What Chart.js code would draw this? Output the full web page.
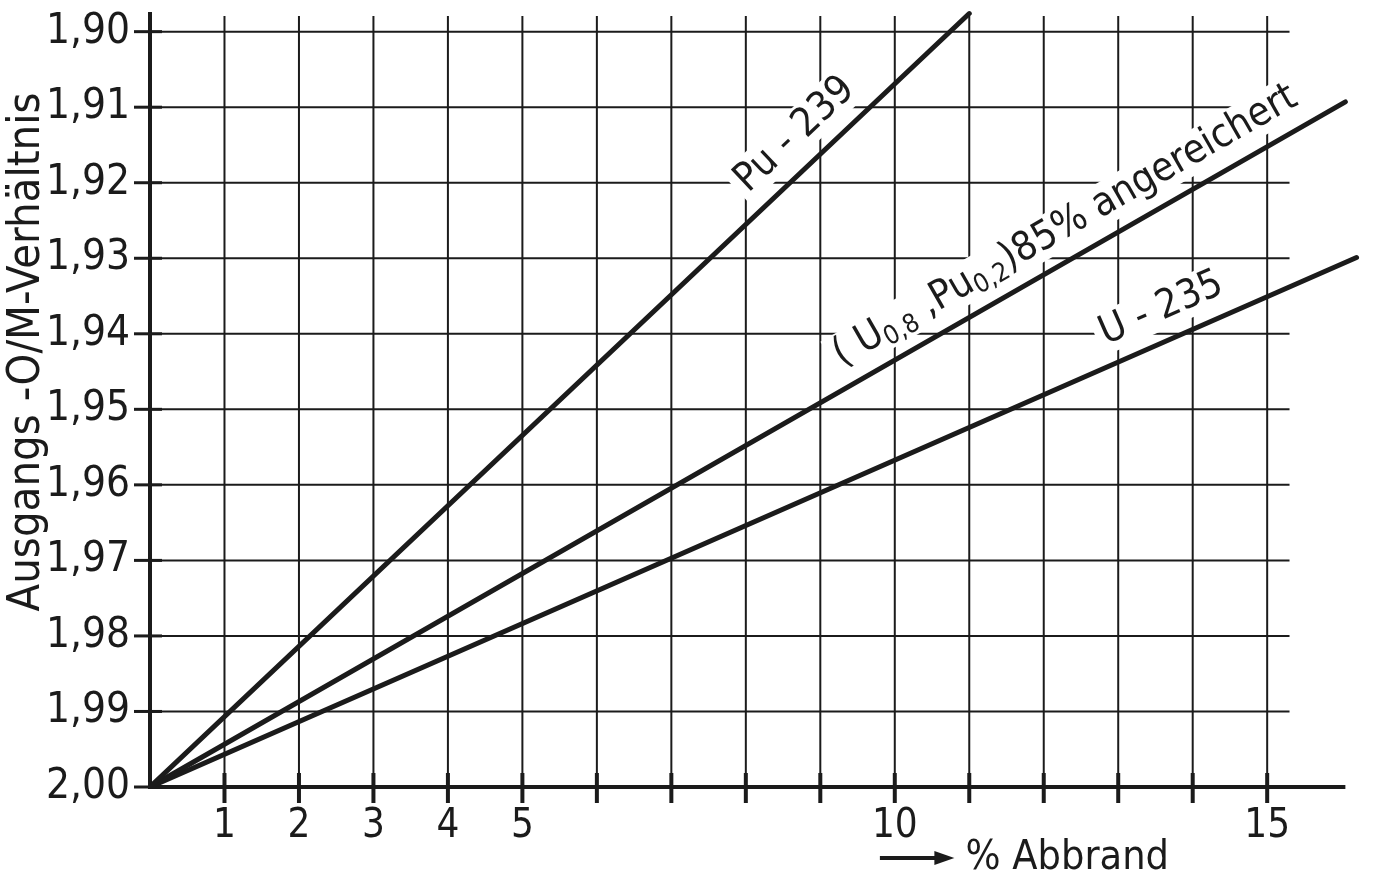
<!DOCTYPE html>
<html>
<head>
<meta charset="utf-8">
<script src="https://cdn.jsdelivr.net/npm/chart.js@4.4.0/dist/chart.umd.min.js"></script>
<style>
  html, body { margin: 0; padding: 0; background: #fff; }
</style>
</head>
<body>
<canvas id="graph" width="1373" height="882"></canvas>
<script>
// values (x = % Abbrand, y = Ausgangs-O/M-Verhaeltnis)
const puBurnup  = [0, 11.0];
const puOM      = [2.000, 1.8976];
const mixBurnup = [0, 16.05];
const mixOM     = [2.000, 1.9093];
const uBurnup   = [0, 16.2];
const uOM       = [2.000, 1.9299];

const xGridValues = [0, 1, 2, 3, 4, 5, 6, 7, 8, 9, 10, 11, 12, 13, 14, 15];
const xTickLabels = [1, 2, 3, 4, 5, 10, 15];
const yTickValues = [1.90, 1.91, 1.92, 1.93, 1.94, 1.95, 1.96, 1.97, 1.98, 1.99, 2.00];

const yTitle = 'Ausgangs -O/M-Verhältnis';
const xTitle = '% Abbrand';

const INK = '#1b1b1b';
const FONT = '"DejaVu Sans Condensed", "Liberation Sans Narrow", sans-serif';

function toPoints(xs, ys) {
    return xs.map((x, i) => ({ x: x, y: ys[i] }));
}

// labels written along the lines
const lineLabels = [
    { ds: 0, at: 8.95, lift: 21, parts: [['Pu - 239', false]] },
    { ds: 1, at: 12.5, lift: 21, parts: [['( U', false], ['0,8', true], [' ,Pu', false], ['0,2', true], [')85% angereichert', false]] },
    { ds: 2, at: 13.75, lift: 21, parts: [['U - 235', false]] },
];

function drawRich(ctx, parts, big, small) {
    let total = 0;
    parts.forEach(p => {
        ctx.font = (p[1] ? small : big) + 'px ' + FONT;
        total += ctx.measureText(p[0]).width;
    });
    let x = -total / 2;
    // white patch so the grid breaks around the text
    ctx.fillStyle = '#fff';
    ctx.fillRect(x - 6, -big * 0.8, total + 12, big * 0.8 + 10);
    ctx.fillStyle = INK;
    ctx.textAlign = 'left';
    ctx.textBaseline = 'alphabetic';
    parts.forEach(p => {
        ctx.font = (p[1] ? small : big) + 'px ' + FONT;
        let dy = p[1] ? 6 : 0;
        ctx.fillText(p[0], x, dy);
        x += ctx.measureText(p[0]).width;
    });
}

const paperGrid = {
    id: 'paperGrid',
    beforeDatasetsDraw(chart) {
        const ctx = chart.ctx;
        const xs = chart.scales.x, ys = chart.scales.y;
        const top = chart.chartArea.top + 3;
        const y0 = ys.getPixelForValue(2.00);
        const x0 = xs.getPixelForValue(0);
        ctx.save();
        ctx.strokeStyle = INK;
        ctx.fillStyle = INK;
        ctx.lineCap = 'butt';
        // horizontal grid
        ctx.lineWidth = 2;
        yTickValues.forEach(v => {
            if (v >= 2.0) return;
            let py = ys.getPixelForValue(v);
            ctx.beginPath();
            ctx.moveTo(x0, py);
            ctx.lineTo(xs.getPixelForValue(15.3), py);
            ctx.stroke();
        });
        // vertical grid
        xGridValues.forEach(v => {
            if (v === 0) return;
            let px = xs.getPixelForValue(v);
            ctx.beginPath();
            ctx.moveTo(px, y0);
            ctx.lineTo(px, top + 4);
            ctx.stroke();
        });

        // line labels (drawn before the lines)
        lineLabels.forEach(lbl => {
            const pts = chart.data.datasets[lbl.ds].data;
            const p0 = pts[0], p1 = pts[pts.length - 1];
            const ax = xs.getPixelForValue(p0.x), ay = ys.getPixelForValue(p0.y);
            const bx = xs.getPixelForValue(p1.x), by = ys.getPixelForValue(p1.y);
            const t = (lbl.at - p0.x) / (p1.x - p0.x);
            const px = ax + (bx - ax) * t, py = ay + (by - ay) * t;
            const ang = Math.atan2(by - ay, bx - ax);
            ctx.save();
            ctx.translate(px, py);
            ctx.rotate(ang);
            ctx.translate(0, -lbl.lift);
            drawRich(ctx, lbl.parts, 40, 26);
            ctx.restore();
        });

        // axes
        ctx.lineWidth = 4;
        ctx.beginPath();
        ctx.moveTo(x0, top);
        ctx.lineTo(x0, y0);
        ctx.lineTo(xs.getPixelForValue(16.05), y0);
        ctx.stroke();
        // tick marks crossing the axes
        ctx.lineWidth = 3;
        yTickValues.forEach(v => {
            let py = ys.getPixelForValue(v);
            ctx.beginPath();
            ctx.moveTo(x0 - 16, py);
            ctx.lineTo(x0 + 12, py);
            ctx.stroke();
        });
        ctx.lineWidth = 4;
        xGridValues.forEach(v => {
            if (v === 0) return;
            let px = xs.getPixelForValue(v);
            ctx.beginPath();
            ctx.moveTo(px, y0 - 14);
            ctx.lineTo(px, y0 + 16);
            ctx.stroke();
        });
        ctx.restore();
    },
    afterDatasetsDraw(chart) {
        const ctx = chart.ctx;
        const xs = chart.scales.x;
        ctx.save();
        ctx.fillStyle = INK;

        // y axis title
        ctx.save();
        ctx.translate(27, 352);
        ctx.rotate(-Math.PI / 2);
        ctx.font = '45px ' + FONT;
        ctx.textAlign = 'center';
        ctx.textBaseline = 'middle';
        ctx.fillText(yTitle, 0, 0);
        ctx.restore();

        // x axis title with arrow
        const ty = 858;
        const a0 = xs.getPixelForValue(9.8), a1 = xs.getPixelForValue(10.8);
        ctx.strokeStyle = INK;
        ctx.lineWidth = 4;
        ctx.beginPath();
        ctx.moveTo(a0, ty);
        ctx.lineTo(a1 - 10, ty);
        ctx.stroke();
        ctx.beginPath();
        ctx.moveTo(a1, ty);
        ctx.lineTo(a1 - 20, ty - 7);
        ctx.lineTo(a1 - 20, ty + 7);
        ctx.closePath();
        ctx.fill();
        ctx.font = '41px ' + FONT;
        ctx.textAlign = 'left';
        ctx.textBaseline = 'middle';
        ctx.fillText(xTitle, xs.getPixelForValue(10.95), ty);
        ctx.restore();
    }
};

const lineStyle = {
    showLine: true,
    borderColor: INK,
    borderWidth: 5,
    borderCapStyle: 'round',
    pointRadius: 0,
    fill: false,
};

const config = {
    type: 'scatter',
    data: {
        datasets: [
            Object.assign({ label: 'Pu-239', data: toPoints(puBurnup, puOM) }, lineStyle),
            Object.assign({ label: '(U0,8,Pu0,2) 85% angereichert', data: toPoints(mixBurnup, mixOM) }, lineStyle),
            Object.assign({ label: 'U-235', data: toPoints(uBurnup, uOM) }, lineStyle),
        ]
    },
    options: {
        responsive: false,
        animation: false,
        layout: { padding: { top: 9, right: 9, left: 0, bottom: 0 } },
        plugins: {
            legend: { display: false },
            tooltip: { enabled: false },
        },
        scales: {
            x: {
                type: 'linear',
                min: 0,
                max: 16.3,
                grid: { display: false, drawTicks: false },
                border: { display: false },
                afterBuildTicks: s => { s.ticks = xGridValues.map(v => ({ value: v })); },
                afterFit: s => { s.height = 95; s.paddingLeft = 0; s.paddingRight = 0; },
                ticks: {
                    autoSkip: false,
                    maxRotation: 0,
                    padding: 16,
                    color: INK,
                    font: { family: FONT, size: 40 },
                    callback: v => xTickLabels.includes(v) ? String(v) : '',
                }
            },
            y: {
                type: 'linear',
                min: 1.897,
                max: 2.0,
                reverse: true,
                grid: { display: false, drawTicks: false },
                border: { display: false },
                afterBuildTicks: s => { s.ticks = yTickValues.map(v => ({ value: v })); },
                afterFit: s => { s.width = 150; s.paddingTop = 0; s.paddingBottom = 0; },
                ticks: {
                    autoSkip: false,
                    padding: 20,
                    color: INK,
                    font: { family: FONT, size: 42 },
                    callback: v => v.toFixed(2).replace('.', ','),
                }
            }
        }
    },
    plugins: [paperGrid]
};

new Chart('graph', config);
</script>
</body>
</html>
